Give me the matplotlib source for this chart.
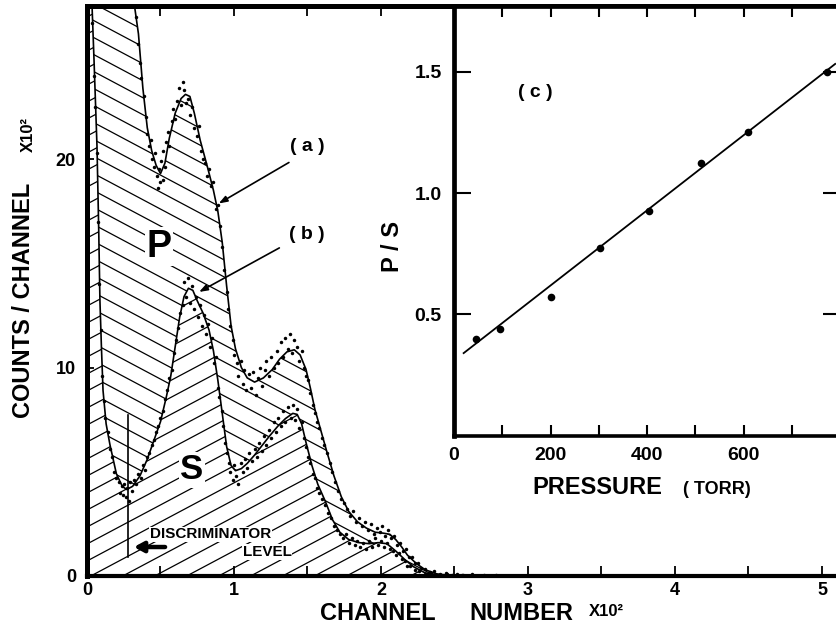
import numpy as np
import matplotlib.pyplot as plt
from matplotlib.patches import Polygon
from matplotlib.collections import LineCollection
from matplotlib.ticker import FixedLocator, FixedFormatter, MultipleLocator

plt.rcParams['font.family'] = ['Liberation Sans', 'DejaVu Sans']
plt.rcParams['font.weight'] = 'bold'

# --- spectrum (a): P + S, fitted curve (channel x100, counts x100) ---
a_c = [0.32, 0.33, 0.35, 0.38, 0.41, 0.44, 0.47, 0.50, 0.53, 0.56, 0.60, 0.64, 0.67, 0.70,
       0.73, 0.77, 0.82, 0.86, 0.89, 0.92, 0.95, 0.98, 1.01, 1.05, 1.09, 1.14, 1.20, 1.26,
       1.31, 1.36, 1.41, 1.45, 1.49, 1.52, 1.55, 1.59, 1.63, 1.68, 1.73, 1.78, 1.84, 1.90,
       1.96, 2.02, 2.06, 2.10, 2.14, 2.18, 2.24, 2.30, 2.38, 2.48, 2.60]
a_v = [27.5, 27.0, 26.0, 23.4, 21.5, 20.4, 19.7, 19.3, 19.8, 21.0, 22.2, 22.9, 23.1, 23.0,
       22.2, 20.9, 19.6, 18.5, 17.5, 16.0, 13.9, 12.0, 10.9, 10.0, 9.5, 9.3, 9.5, 9.9,
       10.4, 10.75, 10.85, 10.6, 9.9, 9.0, 8.0, 7.0, 6.0, 4.8, 3.8, 3.1, 2.6, 2.3,
       2.1, 2.05, 2.0, 1.75, 1.4, 1.0, 0.6, 0.3, 0.1, 0.02, 0.0]

# --- spectrum (b): S only, fitted curve ---
b_c = [0.034, 0.048, 0.068, 0.080, 0.088, 0.098, 0.109, 0.13, 0.156, 0.20, 0.24, 0.27, 0.31,
       0.36, 0.41, 0.46, 0.50, 0.54, 0.57, 0.60, 0.63, 0.66, 0.69, 0.72, 0.75, 0.79, 0.83,
       0.86, 0.89, 0.92, 0.95, 0.98, 1.01, 1.05, 1.09, 1.14, 1.19, 1.24, 1.30, 1.35, 1.40,
       1.43, 1.46, 1.49, 1.53, 1.57, 1.62, 1.67, 1.72, 1.78, 1.85, 1.92, 1.98, 2.04, 2.10,
       2.16, 2.22, 2.30, 2.40, 2.50]
b_v = [27.4, 24.7, 20.6, 16.5, 13.2, 11.0, 8.9, 7.3, 6.3, 4.9, 4.3, 4.15, 4.3,
       4.8, 5.6, 6.6, 7.4, 8.6, 9.6, 11.0, 12.4, 13.4, 13.8, 13.7, 13.2, 12.6, 11.8,
       10.8, 9.4, 7.8, 6.2, 5.3, 5.05, 5.15, 5.4, 5.8, 6.25, 6.7, 7.2, 7.55, 7.8,
       7.75, 7.3, 6.4, 5.3, 4.4, 3.6, 2.7, 2.1, 1.75, 1.6, 1.55, 1.6, 1.55, 1.2,
       0.8, 0.45, 0.15, 0.03, 0.0]

# --- measured channel contents, spectrum (a) ---
a_dot_c = [0.33, 0.345, 0.36, 0.37, 0.385, 0.40, 0.41, 0.42, 0.435, 0.445, 0.455, 0.465, 0.475,
           0.48, 0.49, 0.50, 0.505, 0.515, 0.52, 0.53, 0.54, 0.55, 0.56, 0.575, 0.585, 0.60,
           0.61, 0.625, 0.64, 0.65, 0.66, 0.675, 0.69, 0.70, 0.715, 0.73, 0.745, 0.76, 0.775,
           0.79, 0.80, 0.815, 0.83, 0.845, 0.86, 0.875, 0.89, 0.905, 0.92, 0.935, 0.95, 0.96,
           0.975, 0.99, 1.00, 1.02, 1.03, 1.045, 1.06, 1.07, 1.085, 1.10, 1.115, 1.13, 1.15,
           1.16, 1.175, 1.19, 1.21, 1.22, 1.24, 1.255, 1.27, 1.29, 1.30, 1.32, 1.335, 1.35,
           1.365, 1.38, 1.395, 1.41, 1.43, 1.445, 1.46, 1.475, 1.49, 1.505, 1.52, 1.535, 1.55,
           1.565, 1.58, 1.60, 1.615, 1.63, 1.65, 1.67, 1.69, 1.71, 1.73, 1.75, 1.77, 1.79,
           1.81, 1.83, 1.85, 1.87, 1.89, 1.91, 1.93, 1.95, 1.97, 1.99, 2.01, 2.03, 2.05, 2.07,
           2.09, 2.11, 2.13, 2.15, 2.17, 2.19, 2.21, 2.23, 2.25, 2.27, 2.30, 2.33, 2.36, 2.40,
           2.44, 2.48, 2.52, 2.56, 2.62, 2.70, 2.78]
a_dot_v = [26.8, 25.5, 24.6, 23.9, 23.0, 22.0, 21.2, 20.6, 20.9, 20.0, 19.6, 20.3, 19.2,
           18.6, 19.5, 18.9, 19.9, 19.0, 20.4, 19.6, 20.8, 21.3, 20.6, 21.8, 22.4, 21.9,
           22.8, 23.4, 22.6, 23.7, 23.3, 22.7, 22.9, 22.1, 22.5, 21.5, 21.1, 21.6, 20.4,
           20.0, 19.8, 19.2, 19.5, 18.7, 18.9, 17.6, 17.8, 16.8, 15.8, 14.7, 13.6, 12.8,
           12.0, 11.3, 10.6, 10.2, 9.6, 10.3, 9.2, 9.9, 8.9, 9.7, 9.0, 9.8, 8.7,
           9.5, 10.0, 9.1, 9.9, 10.3, 9.6, 10.5, 10.0, 10.8, 10.2, 11.2, 10.5, 11.4,
           10.9, 11.6, 10.7, 11.3, 11.0, 10.3, 10.8, 10.0, 9.6, 9.4, 8.8, 8.2, 7.8,
           7.4, 7.1, 6.6, 6.3, 5.9, 5.4, 5.0, 4.5, 4.1, 3.7, 3.5, 3.2, 2.9,
           3.1, 2.6, 2.8, 2.4, 2.6, 2.2, 2.5, 2.0, 2.3, 2.1, 2.4, 1.9, 2.2, 1.8,
           1.9, 1.5, 1.6, 1.2, 1.3, 0.9, 0.9, 0.6, 0.6, 0.4, 0.35, 0.2, 0.25, 0.1,
           0.15, 0.05, 0.1, 0.05, 0.08, 0.03, 0.05]

# --- measured channel contents, spectrum (b) ---
b_dot_c = [0.035, 0.045, 0.055, 0.065, 0.075, 0.085, 0.095, 0.105, 0.115, 0.125, 0.14, 0.155,
           0.17, 0.185, 0.20, 0.215, 0.225, 0.235, 0.245, 0.255, 0.265, 0.275, 0.285, 0.295,
           0.305, 0.32, 0.335, 0.35, 0.365, 0.38, 0.395, 0.41, 0.425, 0.44, 0.455, 0.47,
           0.485, 0.50, 0.515, 0.53, 0.545, 0.56, 0.575, 0.59, 0.605, 0.62, 0.635, 0.65,
           0.66, 0.675, 0.69, 0.70, 0.715, 0.73, 0.74, 0.755, 0.77, 0.78, 0.795, 0.81,
           0.82, 0.835, 0.85, 0.865, 0.875, 0.89, 0.90, 0.915, 0.925, 0.94, 0.95, 0.965,
           0.975, 0.99, 1.00, 1.015, 1.03, 1.045, 1.06, 1.075, 1.09, 1.105, 1.12, 1.14,
           1.155, 1.17, 1.19, 1.205, 1.22, 1.235, 1.25, 1.27, 1.285, 1.30, 1.32, 1.335,
           1.35, 1.37, 1.385, 1.40, 1.415, 1.43, 1.445, 1.46, 1.475, 1.49, 1.505, 1.52,
           1.535, 1.55, 1.565, 1.58, 1.60, 1.62, 1.64, 1.66, 1.68, 1.70, 1.72, 1.74,
           1.76, 1.78, 1.80, 1.82, 1.84, 1.86, 1.88, 1.90, 1.92, 1.94, 1.96, 1.98,
           2.00, 2.02, 2.04, 2.06, 2.08, 2.10, 2.12, 2.14, 2.16, 2.18, 2.20, 2.23,
           2.26, 2.30, 2.34, 2.38, 2.45, 2.55]
b_dot_v = [26.5, 24.0, 22.5, 20.3, 17.0, 14.0, 11.8, 9.6, 8.4, 7.6, 6.9, 6.1,
           5.7, 5.0, 4.7, 4.5, 4.0, 4.3, 3.9, 4.4, 3.8, 4.2, 3.6, 4.5,
           4.1, 4.6, 4.4, 4.9, 4.7, 5.3, 5.1, 5.7, 5.9, 6.3, 6.5, 6.9,
           7.2, 7.6, 7.9, 8.5, 8.9, 9.5, 9.9, 10.7, 11.3, 11.9, 12.6, 13.0,
           14.1, 13.4, 14.3, 13.1, 13.9, 12.8, 13.4, 12.4, 13.0, 12.0, 12.5, 11.6,
           12.1, 11.0, 11.4, 10.2, 10.5, 9.0, 8.6, 7.9, 7.2, 6.4, 5.9, 5.4,
           5.0, 4.6, 5.3, 4.8, 4.4, 5.4, 5.0, 5.6, 5.2, 5.9, 5.5, 6.1,
           5.7, 6.4, 6.0, 6.7, 6.3, 7.0, 6.6, 7.4, 6.9, 7.6, 7.2, 7.9,
           7.4, 8.1, 7.6, 8.2, 7.5, 8.0, 7.1, 7.4, 6.6, 6.2, 5.7, 5.4,
           4.9, 4.7, 4.2, 4.0, 3.7, 3.4, 3.0, 2.8, 2.4, 2.2, 2.0, 1.8,
           2.0, 1.6, 1.8, 1.5, 1.7, 1.4, 1.6, 1.3, 1.7, 1.4, 1.8, 1.5,
           1.7, 1.4, 1.6, 1.3, 1.2, 1.0, 1.1, 0.8, 0.7, 0.5, 0.5, 0.3,
           0.25, 0.1, 0.15, 0.05, 0.08, 0.03]

# --- inset (c): P/S ratio against pressure ---
pressure = [45, 95, 200, 303, 405, 511, 610, 773]
ps_ratio = [0.40, 0.44, 0.57, 0.775, 0.927, 1.125, 1.253, 1.497]
fit_pressure = [20, 790]
fit_ratio = [0.340, 1.532]

W, H = 837, 637
X0, Y0 = 87, 576          # pixel position of the main origin
PX_C, PX_V = 147.0, 20.85  # pixels per channel unit / per count unit
TOP = 6

fig = plt.figure(figsize=(W / 100, H / 100), dpi=100)
ax = fig.add_axes([X0 / W, (H - Y0) / H, (W - X0) / W, (Y0 - TOP) / H])
xmax = (W - X0) / PX_C
ymax = (Y0 - TOP) / PX_V


def hatch_region(ax, pts, angle_deg, spacing_px, lw=0.9):
    """Fill a polygon with straight parallel lines (angle in screen space)."""
    patch = Polygon(pts, closed=True, fill=False, edgecolor='none')
    ax.add_patch(patch)
    slope = np.tan(np.radians(angle_deg)) * PX_C / PX_V
    step = spacing_px / PX_V
    xs = np.array([-1.0, 7.0])
    segs = [np.column_stack([xs, slope * xs + k]) for k in np.arange(-80, 80, step)]
    lc = LineCollection(segs, colors='k', linewidths=lw)
    ax.add_collection(lc, autolim=False)
    lc.set_clip_path(patch)


# S region: below spectrum (b)
s_pts = [(0, 0), (0, ymax)] + [(b_c[0], ymax)] + list(zip(b_c, b_v)) + [(b_c[-1], 0)]
hatch_region(ax, s_pts, 28, 17)
# P region: between (b) and (a)
p_pts = list(zip(b_c, b_v)) + [(a_c[-1], 0)] + list(zip(a_c[::-1], a_v[::-1])) + [(a_c[0], ymax), (b_c[0], ymax)]
hatch_region(ax, p_pts, -28, 17)

ax.plot(a_c, a_v, color='k', lw=1.2, zorder=3)
ax.plot(b_c, b_v, color='k', lw=1.2, zorder=3)
ax.plot(a_dot_c, a_dot_v, 'o', color='k', ms=2.5, mew=0, zorder=4)
ax.plot(b_dot_c, b_dot_v, 'o', color='k', ms=2.5, mew=0, zorder=4)

# region letters
ax.text(0.49, 15.8, 'P', fontsize=27, ha='center', va='center', zorder=5,
        bbox=dict(facecolor='white', edgecolor='none', pad=1))
ax.text(0.714, 5.1, 'S', fontsize=25, ha='center', va='center', zorder=5,
        bbox=dict(facecolor='white', edgecolor='none', pad=1))

# curve labels
ax.text(1.497, 20.6, '( a )', fontsize=14, ha='center', va='center')
ax.annotate('', xy=(0.88, 17.8), xytext=(1.39, 19.9),
            arrowprops=dict(arrowstyle='-|>,head_length=0.5,head_width=0.18', lw=1.2, color='k'))
ax.text(1.497, 16.4, '( b )', fontsize=14, ha='center', va='center')
ax.annotate('', xy=(0.746, 13.56), xytext=(1.325, 15.8),
            arrowprops=dict(arrowstyle='-|>,head_length=0.5,head_width=0.18', lw=1.2, color='k'))

# discriminator level marker
ax.plot([0.281, 0.281], [0.93, 7.72], color='k', lw=1.2, zorder=5)
ax.annotate('', xy=(0.30, 1.39), xytext=(0.55, 1.39), zorder=6,
            arrowprops=dict(arrowstyle='-|>,head_length=0.55,head_width=0.3', lw=3.2, color='k'))
ax.text(0.43, 2.0, 'DISCRIMINATOR', fontsize=11, ha='left', va='center', zorder=6,
        bbox=dict(facecolor='white', edgecolor='none', pad=0.5))
ax.text(1.06, 1.15, 'LEVEL', fontsize=11, ha='left', va='center', zorder=6,
        bbox=dict(facecolor='white', edgecolor='none', pad=0.5))

ax.set_xlim(0, xmax)
ax.set_ylim(0, ymax)
ax.xaxis.set_major_locator(FixedLocator([0, 1, 2, 3, 4, 5]))
ax.xaxis.set_minor_locator(MultipleLocator(0.5))
ax.yaxis.set_major_locator(FixedLocator([0, 10, 20]))
ax.tick_params(axis='both', which='both', direction='in', top=True, width=1.3, labelsize=13)
ax.tick_params(axis='x', which='major', length=7, pad=4)
ax.tick_params(axis='x', which='minor', length=7)
ax.tick_params(axis='y', length=5, pad=8)
ax.spines['right'].set_visible(False)
ax.spines['left'].set_linewidth(3.6)
ax.spines['bottom'].set_linewidth(3.0)
ax.spines['top'].set_linewidth(3.6)

# axis titles
fig.text(378 / W, 1 - 613 / H, 'CHANNEL', fontsize=17, ha='center', va='center')
fig.text(521 / W, 1 - 613 / H, 'NUMBER', fontsize=17, ha='center', va='center')
fig.text(606 / W, 1 - 611 / H, 'X10²', fontsize=12, ha='center', va='center')
fig.text(24 / W, 1 - 300 / H, 'COUNTS / CHANNEL', fontsize=17, rotation=90, ha='center', va='center')
fig.text(28 / W, 1 - 135 / H, 'X10²', fontsize=12, rotation=90, ha='center', va='center')

# --- inset ---
IX0, IY0, IX1 = 454, 435.6, 840
ins = fig.add_axes([IX0 / W, (H - IY0) / H, (IX1 - IX0) / W, (IY0 - TOP) / H])
ins.set_facecolor('white')
ins.plot(fit_pressure, fit_ratio, color='k', lw=1.3)
ins.plot(pressure, ps_ratio, 'o', color='k', ms=5.5, mew=0)
ins.text(169, 1.416, '( c )', fontsize=14, ha='center', va='center')
ins.set_xlim(0, 800)
ins.set_ylim(0, (IY0 - TOP) / 242.6)
ins.xaxis.set_major_locator(FixedLocator(list(range(0, 900, 100))))
ins.xaxis.set_major_formatter(FixedFormatter(['0', '', '200', '', '400', '', '600', '', '']))
ins.yaxis.set_major_locator(FixedLocator([0.5, 1.0, 1.5]))
ins.yaxis.set_major_formatter(FixedFormatter(['0.5', '1.0', '1.5']))
ins.tick_params(axis='both', direction='in', top=True, right=True, width=1.5, labelsize=14)
ins.tick_params(axis='x', length=8, pad=8)
ins.tick_params(axis='y', length=12, pad=9)
for side in ['left', 'top']:
    ins.spines[side].set_linewidth(3.4)
for side in ['bottom', 'right']:
    ins.spines[side].set_linewidth(2.6)

fig.text(597 / W, 1 - 488 / H, 'PRESSURE', fontsize=17, ha='center', va='center')
fig.text(717 / W, 1 - 490 / H, '( TORR)', fontsize=13, ha='center', va='center')
fig.text(393 / W, 1 - 247 / H, 'P / S', fontsize=17, rotation=90, ha='center', va='center')

fig.savefig('out.png', dpi=100)
